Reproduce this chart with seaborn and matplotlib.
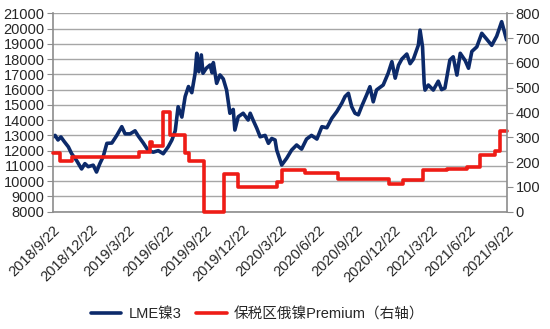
import matplotlib
matplotlib.use('Agg')
import matplotlib.pyplot as plt
from matplotlib.lines import Line2D
from matplotlib.font_manager import FontProperties
import seaborn as sns
import pandas as pd

# ---- data ----
lme_dates = [
    "2018-09-22", "2018-09-27", "2018-10-04", "2018-10-11", "2018-10-19", "2018-10-29",
    "2018-11-06", "2018-11-18", "2018-11-30", "2018-12-08", "2018-12-16", "2018-12-28",
    "2019-01-05", "2019-01-13", "2019-01-21", "2019-01-30", "2019-02-11", "2019-02-23",
    "2019-03-07", "2019-03-15", "2019-03-27", "2019-04-08", "2019-04-16", "2019-04-28",
    "2019-05-10", "2019-05-22", "2019-06-03", "2019-06-15", "2019-06-27", "2019-07-06",
    "2019-07-14", "2019-07-21", "2019-07-30", "2019-08-07", "2019-08-15", "2019-08-23",
    "2019-08-31", "2019-09-04", "2019-09-09", "2019-09-15", "2019-09-19", "2019-09-27",
    "2019-10-06", "2019-10-11", "2019-10-14", "2019-10-22", "2019-10-30", "2019-11-07",
    "2019-11-15", "2019-11-23", "2019-12-01", "2019-12-05", "2019-12-13", "2019-12-25",
    "2020-01-06", "2020-01-11", "2020-01-18", "2020-01-27", "2020-02-04", "2020-02-16",
    "2020-02-24", "2020-03-03", "2020-03-11", "2020-03-15", "2020-03-27", "2020-04-08",
    "2020-04-20", "2020-05-02", "2020-05-14", "2020-05-26", "2020-06-07", "2020-06-20",
    "2020-07-02", "2020-07-14", "2020-07-26", "2020-08-07", "2020-08-19", "2020-08-27",
    "2020-09-04", "2020-09-12", "2020-09-20", "2020-09-28", "2020-10-06", "2020-10-18",
    "2020-10-26", "2020-11-03", "2020-11-11", "2020-11-27", "2020-12-09", "2020-12-18",
    "2020-12-26", "2021-01-03", "2021-01-11", "2021-01-23", "2021-01-31", "2021-02-08",
    "2021-02-20", "2021-02-24", "2021-03-02", "2021-03-06", "2021-03-08", "2021-03-16",
    "2021-03-28", "2021-04-09", "2021-04-17", "2021-04-25", "2021-05-07", "2021-05-15",
    "2021-05-24", "2021-06-01", "2021-06-13", "2021-06-21", "2021-06-29", "2021-07-11",
    "2021-07-23", "2021-08-04", "2021-08-16", "2021-08-28", "2021-09-09", "2021-09-21",
]
lme_values = [
    12900, 13000, 12700, 12900, 12600, 12250,
    11800, 11350, 10800, 11150, 10950, 11050,
    10600, 11150, 11600, 12480, 12500, 13000,
    13570, 13100, 13100, 13300, 12950, 12500,
    12000, 11900, 12000, 11800, 12250, 12700,
    13300, 14880, 14200, 15550, 16200, 15800,
    17070, 18380, 17170, 18270, 17070, 17400,
    17610, 17100, 17770, 16410, 16960, 16700,
    15970, 14450, 14700, 13350, 14220, 14450,
    14010, 14450, 14000, 13460, 12910, 13000,
    12480, 12800, 12700, 12040, 11060, 11500,
    12040, 12370, 12100, 12760, 13000, 12760,
    13570, 13500, 14120, 14560, 15100, 15550,
    15760, 14880, 14450, 14350, 14900, 15650,
    16190, 15200, 15980, 16300, 17070, 17830,
    16750, 17600, 18000, 18330, 17700, 18000,
    18920, 19900, 18800, 16400, 15970, 16300,
    15970, 16550, 16000, 16100, 17940, 18150,
    16950, 18380, 17900, 17400, 18500, 18800,
    19690, 19300, 18900, 19500, 20450, 19250,
]

prem_dates = [
    "2018-09-22", "2018-10-08", "2018-11-06", "2019-04-18", "2019-05-14", "2019-05-19",
    "2019-06-15", "2019-07-01", "2019-08-07", "2019-08-17", "2019-09-22", "2019-11-09",
    "2019-12-13", "2020-03-15", "2020-03-27", "2020-05-22", "2020-08-11", "2020-12-11",
    "2021-01-15", "2021-03-04", "2021-04-29", "2021-06-17", "2021-07-19", "2021-08-24",
    "2021-09-05", "2021-09-22",
]
prem_values = [
    235, 205, 220, 242, 280, 265,
    403, 308, 235, 204, 0, 152,
    100, 121, 168, 155, 131, 112,
    128, 168, 172, 179, 229, 245,
    327, 327,
]

tick_labels = [
    "2018/9/22", "2018/12/22", "2019/3/22", "2019/6/22", "2019/9/22", "2019/12/22",
    "2020/3/22", "2020/6/22", "2020/9/22", "2020/12/22", "2021/3/22", "2021/6/22",
    "2021/9/22",
]
left_ticks = list(range(8000, 21001, 1000))
right_ticks = list(range(0, 801, 100))

series_names = ["LME镍3", "保税区俄镍Premium（右轴）"]

# ---- style ----
sns.set_style("white")
plt.rcParams["font.family"] = ["Liberation Sans", "Noto Sans CJK SC"]

BLUE = "#0c2a6a"
RED = "#ee1c16"
GRID = "#a6a6a6"
SPINE = "#8c8c8c"
FS = 10.5

lme = pd.DataFrame({"date": pd.to_datetime(lme_dates), "value": lme_values})
prem = pd.DataFrame({"date": pd.to_datetime(prem_dates), "value": prem_values})
tick_dates = pd.to_datetime([t.replace("/", "-") for t in tick_labels])

fig = plt.figure(figsize=(5.5, 3.29), dpi=100)
ax = fig.add_axes([0.0964, 0.3565, 0.8255, 0.6031])

sns.lineplot(data=lme, x="date", y="value", ax=ax, color=BLUE, lw=2.6,
             estimator=None, legend=False)
ax.set_ylim(8000, 21000)
ax.set_yticks(left_ticks)
ax.set_xlim(tick_dates[0], tick_dates[-1])
ax.set_xticks(tick_dates)
ax.set_xticklabels(tick_labels, rotation=45, ha="right", rotation_mode="anchor",
                   fontsize=FS)
ax.tick_params(axis="y", labelsize=FS, direction="out", length=4, color=SPINE, pad=2)
ax.tick_params(axis="x", direction="out", length=5, color=SPINE, pad=3)
ax.set_xlabel("")
ax.set_ylabel("")
ax.yaxis.grid(True, color=GRID, lw=1.0)
ax.xaxis.grid(False)
ax.set_axisbelow(True)
for s in ["top", "right"]:
    ax.spines[s].set_visible(False)
for s in ["left", "bottom"]:
    ax.spines[s].set_color(SPINE)
    ax.spines[s].set_linewidth(1.2)

ax2 = ax.twinx()
sns.lineplot(data=prem, x="date", y="value", ax=ax2, color=RED, lw=2.6,
             estimator=None, legend=False, drawstyle="steps-post", clip_on=False)
ax2.set_ylim(0, 800)
ax2.set_yticks(right_ticks)
ax2.set_xlim(tick_dates[0], tick_dates[-1])
ax2.tick_params(axis="y", labelsize=FS, direction="out", length=4, color=SPINE, pad=2)
ax2.set_ylabel("")
ax2.grid(False)
for s in ["top", "left", "bottom"]:
    ax2.spines[s].set_visible(False)
ax2.spines["right"].set_color(SPINE)
ax2.spines["right"].set_linewidth(1.2)

handles = [Line2D([], [], color=BLUE, lw=2.6), Line2D([], [], color=RED, lw=2.6)]
fig.legend(handles, series_names, loc="center", bbox_to_anchor=(0.468, 0.045),
           ncol=2, frameon=False, handlelength=2.1, columnspacing=1.0,
           handletextpad=0.5,
           prop=FontProperties(family=["Liberation Sans", "Noto Sans CJK SC"], size=FS))

fig.savefig("out.png", dpi=100)
